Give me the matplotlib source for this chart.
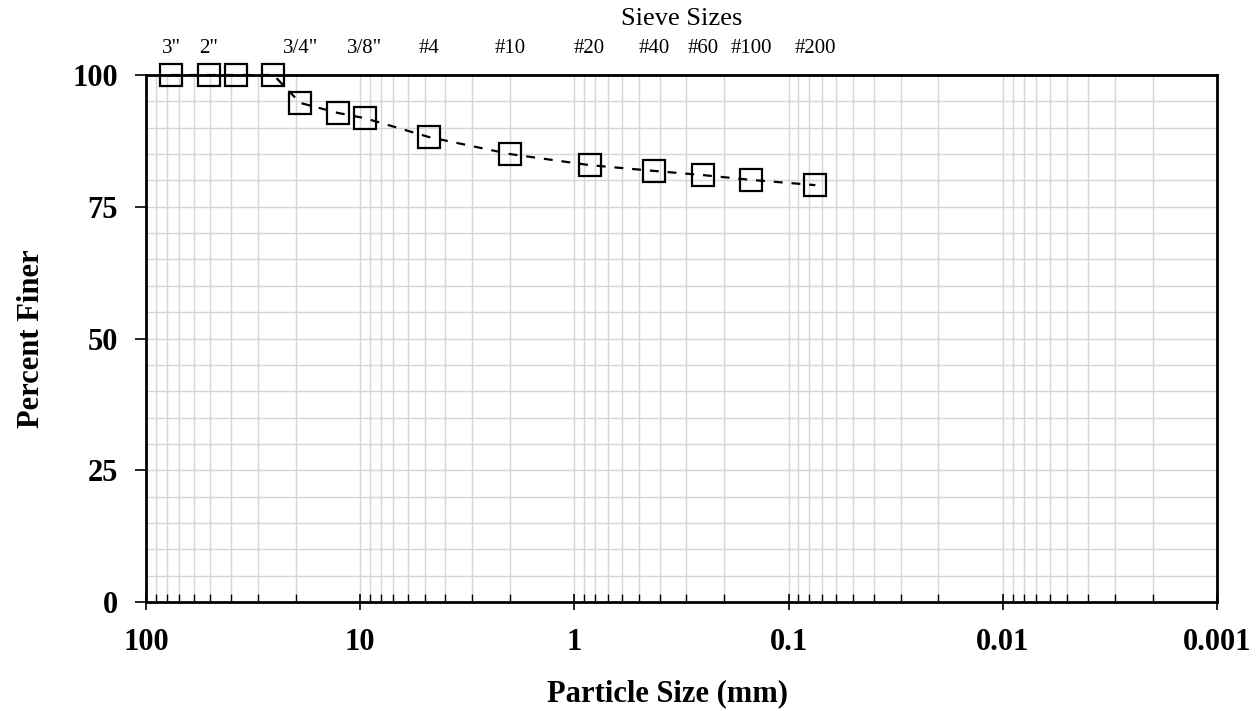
import matplotlib
matplotlib.use("Agg")
import matplotlib.pyplot as plt
from matplotlib.ticker import LogLocator, FixedLocator, NullFormatter, FixedFormatter, MultipleLocator

plt.rcParams['font.family'] = ['Liberation Serif', 'DejaVu Serif']

# Gradation results
particle_size_mm = [76.2, 50.8, 38.1, 25.4, 19.05, 12.7, 9.5, 4.75, 2.0, 0.85, 0.425, 0.25, 0.15, 0.075]
percent_finer = [100.0, 100.0, 100.0, 100.0, 94.7, 92.8, 91.8, 88.2, 85.0, 82.9, 81.8, 81.0, 80.1, 79.1]

# Standard sieve designations shown along the top
sieve_sizes_mm = [76.2, 50.8, 19.05, 9.5, 4.75, 2.0, 0.85, 0.425, 0.25, 0.15, 0.075]
sieve_labels = ['3"', '2"', '3/4"', '3/8"', '#4', '#10', '#20', '#40', '#60', '#100', '#200']

x_ticks = [100, 10, 1, 0.1, 0.01, 0.001]
x_tick_labels = ['100', '10', '1', '0.1', '0.01', '0.001']
y_ticks = [0, 25, 50, 75, 100]

fig = plt.figure(figsize=(12.58, 7.11), dpi=100)
ax = fig.add_axes([146 / 1258, 1 - 602 / 711, (1217 - 146) / 1258, (602 - 75) / 711])

ax.set_xscale('log')
ax.set_xlim(100, 0.001)
ax.set_ylim(0, 100)

ax.plot(particle_size_mm, percent_finer, linestyle=(0, (4, 4)), color='black', linewidth=1.6,
        marker='s', markersize=16, markerfacecolor='none', markeredgecolor='black',
        markeredgewidth=1.6, clip_on=False, zorder=5)

# Axes ticks and grid
ax.xaxis.set_major_locator(FixedLocator(x_ticks))
ax.xaxis.set_major_formatter(FixedFormatter(x_tick_labels))
ax.xaxis.set_minor_locator(LogLocator(base=10, subs=range(2, 10), numticks=20))
ax.xaxis.set_minor_formatter(NullFormatter())
ax.yaxis.set_major_locator(FixedLocator(y_ticks))
ax.yaxis.set_minor_locator(MultipleLocator(5))

ax.grid(which='both', axis='both', color='#d6d6d6', linewidth=1.0)
ax.set_axisbelow(True)

ax.tick_params(axis='x', which='major', direction='inout', length=12, width=1.2,
               labelsize=22, pad=13, top=False)
ax.tick_params(axis='x', which='minor', direction='in', length=6, width=1.0, top=False)
ax.tick_params(axis='y', which='major', direction='out', length=8, width=1.2,
               labelsize=22, pad=12, right=False)
ax.tick_params(axis='y', which='minor', length=0)
for lbl in ax.get_xticklabels() + ax.get_yticklabels():
    lbl.set_fontweight('bold')

for s in ax.spines.values():
    s.set_linewidth(2)
    s.set_color('black')

ax.set_xlabel('Particle Size (mm)', fontsize=22, fontweight='bold')
ax.xaxis.set_label_coords(0.4865, -0.146)
ax.set_ylabel('Percent Finer', fontsize=22, fontweight='bold')
ax.yaxis.set_label_coords(-0.093, 0.5)

# Sieve designations on a top axis
top = ax.twiny()
top.set_xscale('log')
top.set_xlim(ax.get_xlim())
top.xaxis.set_major_locator(FixedLocator(sieve_sizes_mm))
top.xaxis.set_major_formatter(FixedFormatter(sieve_labels))
top.xaxis.set_minor_locator(FixedLocator([]))
top.tick_params(axis='x', which='major', length=0, labelsize=15, pad=12)
top.set_xlabel('Sieve Sizes', fontsize=19, labelpad=10)
for s in top.spines.values():
    s.set_visible(False)

fig.savefig('out.png', dpi=100)
